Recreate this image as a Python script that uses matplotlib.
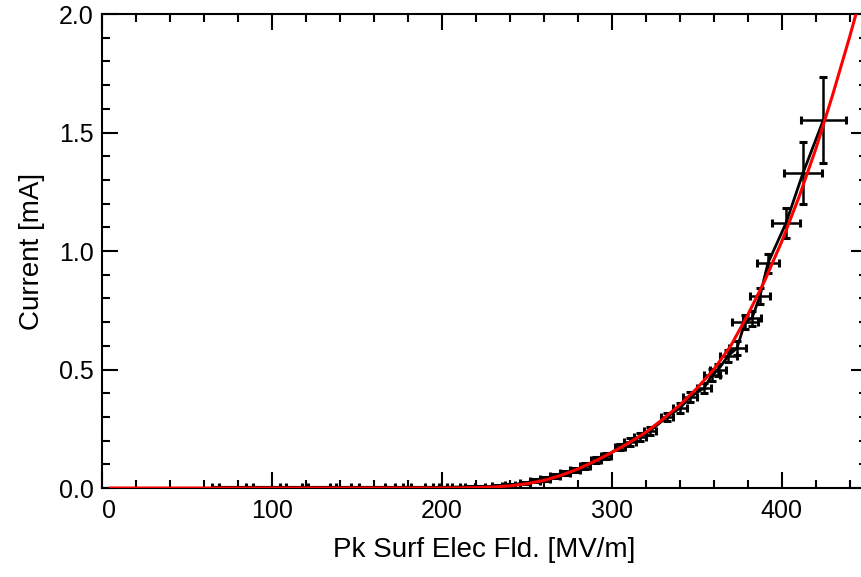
import matplotlib
matplotlib.use("Agg")
import matplotlib.pyplot as plt
from matplotlib.ticker import MultipleLocator, FuncFormatter

plt.rcParams['font.family'] = ['Liberation Sans', 'DejaVu Sans']

# measured points (field [MV/m], current [mA])
field = [66.7, 86.7, 106.6, 119.6, 136.0, 149.0, 169.6, 179.6, 192.5, 200.8,
         208.4, 216.6, 222.5, 232.5, 240.2, 249.0, 254.9, 260.8, 266.6, 272.5,
         278.4, 284.3, 290.8, 296.6, 304.9, 310.8, 316.6, 322.5, 332.5, 340.2,
         346.1, 354.3, 359.0, 362.5, 368.4, 373.7, 378.4, 382.5, 387.2, 391.9,
         402.5, 412.5, 424.5]
current = [0.003, 0.003, 0.003, 0.003, 0.003, 0.003, 0.003, 0.003, 0.003, 0.003,
           0.004, 0.005, 0.005, 0.008, 0.013, 0.021, 0.030, 0.038, 0.051, 0.063,
           0.076, 0.093, 0.118, 0.135, 0.173, 0.194, 0.215, 0.241, 0.300, 0.338,
           0.384, 0.422, 0.477, 0.498, 0.557, 0.591, 0.700, 0.717, 0.810, 0.949,
           1.118, 1.329, 1.553]
field_err = [2.0, 2.0, 2.0, 2.0, 2.0, 2.5, 3.0, 2.5, 2.5, 2.5,
             2.5, 3.0, 3.0, 3.0, 3.0, 3.0, 3.0, 3.0, 3.0, 3.0,
             3.0, 3.0, 3.0, 3.0, 3.0, 3.5, 3.5, 3.5, 3.5, 4.0,
             4.0, 4.0, 4.5, 4.5, 5.0, 5.0, 7.5, 5.5, 6.0, 6.5,
             8.3, 11.0, 13.2]
current_err = [0.002, 0.002, 0.002, 0.002, 0.002, 0.002, 0.002, 0.002, 0.002, 0.002,
               0.002, 0.003, 0.003, 0.003, 0.004, 0.005, 0.006, 0.007, 0.008, 0.009,
               0.010, 0.011, 0.012, 0.013, 0.014, 0.015, 0.016, 0.017, 0.018, 0.020,
               0.021, 0.022, 0.024, 0.025, 0.026, 0.028, 0.030, 0.032, 0.034, 0.040,
               0.065, 0.130, 0.180]

# fit curve
fit_field = [5, 150, 200, 210, 220, 230, 240, 250, 260, 270, 280, 290, 300, 310,
             320, 330, 340, 350, 360, 370, 380, 390, 400, 410, 420, 430, 440, 446]
fit_current = [0.0, 0.0, 0.0002, 0.0005, 0.0015, 0.004, 0.009, 0.018, 0.032, 0.053,
               0.080, 0.113, 0.150, 0.190, 0.235, 0.290, 0.350, 0.420, 0.500, 0.600,
               0.730, 0.875, 1.040, 1.225, 1.430, 1.660, 1.905, 2.060]

fig = plt.figure(figsize=(8.62, 5.77), dpi=100)
ax = fig.add_axes([0.118, 0.1542, 0.8875, 0.8215])

ax.errorbar(field, current, xerr=field_err, yerr=current_err, color='black',
            lw=2, elinewidth=1.8, capsize=3, capthick=2.2, zorder=2)
ax.plot(fit_field, fit_current, color='red', lw=2.2, zorder=3)

ax.set_xlim(0, 450)
ax.set_ylim(0, 2.0)
ax.xaxis.set_major_locator(MultipleLocator(100))
ax.xaxis.set_minor_locator(MultipleLocator(20))
ax.yaxis.set_major_locator(MultipleLocator(0.5))
ax.yaxis.set_minor_locator(MultipleLocator(0.1))
ax.yaxis.set_major_formatter(plt.FormatStrFormatter('%.1f'))
# the "0" label is drawn separately, shifted right of the y axis
ax.xaxis.set_major_formatter(FuncFormatter(lambda v, p: '' if abs(v) < 1e-9 else '%d' % v))

ax.tick_params(which='both', direction='in', top=True, right=True, width=1.5,
               labelsize=18)
ax.tick_params(axis='x', pad=8)
ax.tick_params(axis='y', pad=6)
ax.tick_params(which='major', length=11.5)
ax.tick_params(which='minor', length=5.8)
for s in ax.spines.values():
    s.set_linewidth(1.5)

ax.annotate('0', xy=(0, 0), xycoords=('data', 'axes fraction'),
            xytext=(0, -8), textcoords='offset points',
            ha='left', va='top', fontsize=18)

ax.set_xlabel('Pk Surf Elec Fld. [MV/m]', fontsize=20, labelpad=10)
ax.set_ylabel('Current [mA]', fontsize=20, labelpad=10)

fig.savefig('out.png', dpi=100)
